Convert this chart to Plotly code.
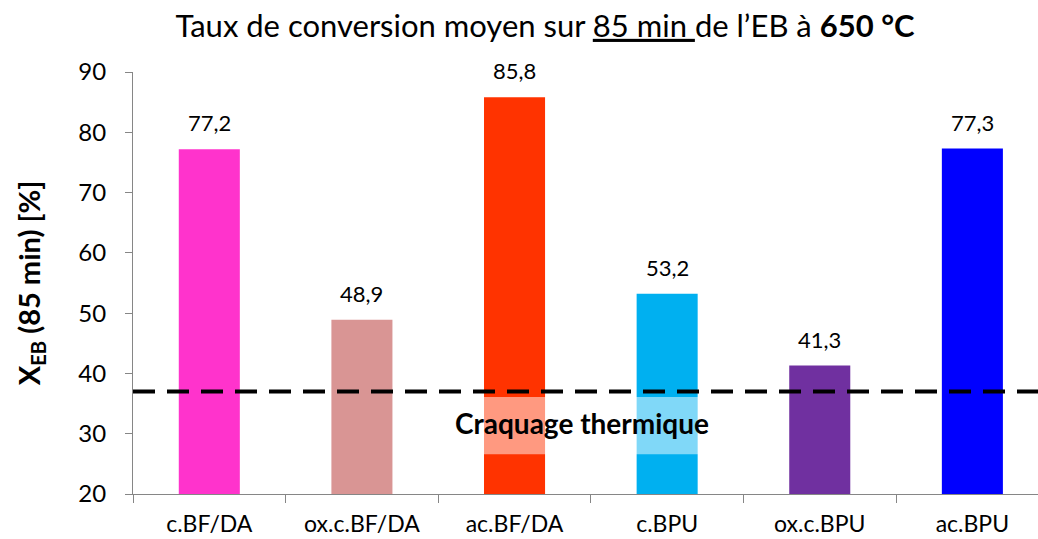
import plotly.graph_objects as go

categories = ["c.BF/DA", "ox.c.BF/DA", "ac.BF/DA", "c.BPU", "ox.c.BPU", "ac.BPU"]
conversion = [77.2, 48.9, 85.8, 53.2, 41.3, 77.3]
value_labels = ["77,2", "48,9", "85,8", "53,2", "41,3", "77,3"]
bar_colors = ["#FF33CC", "#D99594", "#FF3300", "#00B0F0", "#7030A0", "#0000FF"]
thermal_cracking = 37.0
y_ticks = [20, 30, 40, 50, 60, 70, 80, 90]

FONT = "Lato"

fig = go.Figure()
fig.add_trace(go.Bar(
    x=categories, y=conversion,
    marker=dict(color=bar_colors, line=dict(width=0)),
    width=0.4,
    hoverinfo="skip",
))

# value labels sitting a little above each bar
for cat, val, lab in zip(categories, conversion, value_labels):
    fig.add_annotation(x=cat, y=val, xref="x", yref="y", text=lab, showarrow=False,
                       yanchor="bottom", yshift=11,
                       font=dict(family=FONT, size=22, color="black"))

# thermal cracking reference line
fig.add_shape(type="line", xref="paper", yref="y", x0=0, x1=1,
              y0=thermal_cracking, y1=thermal_cracking,
              line=dict(color="black", width=4, dash="22px,12px"), layer="above")

# light backing behind the annotation
fig.add_shape(type="rect", xref="x", yref="y", x0=1.6, x1=3.4, y0=26.6, y1=36.1,
              fillcolor="rgba(255,255,255,0.5)", line=dict(width=0), layer="above")

fig.add_annotation(x=2.44, y=31.8, xref="x", yref="y", text="<b>Craquage thermique</b>",
                   showarrow=False, font=dict(family=FONT, size=28, color="black"))

fig.update_layout(
    width=1038, height=539,
    margin=dict(l=133, r=0, t=72, b=45),
    paper_bgcolor="white", plot_bgcolor="white",
    showlegend=False,
    font=dict(family=FONT, color="black"),
    title=dict(
        text="Taux de conversion moyen sur <u>85 min </u>de l\u2019EB à <b>650 °C</b>",
        x=545 / 1038, xanchor="center", y=1 - 26 / 539, yanchor="middle",
        font=dict(family=FONT, size=31, color="black"),
    ),
    xaxis=dict(
        range=[-0.5, 5.43], showline=True, linecolor="#868686", linewidth=1,
        ticks="outside", tickson="boundaries", ticklen=8, tickcolor="#868686",
        tickfont=dict(family=FONT, size=23, color="black"), ticklabelstandoff=9,
        showgrid=False,
    ),
    yaxis=dict(
        range=[20, 90], tickvals=y_ticks, showline=True, linecolor="#868686", linewidth=1,
        ticks="outside", ticklen=7, tickcolor="#868686",
        tickfont=dict(family=FONT, size=24, color="black"), ticklabelstandoff=14,
        showgrid=False, zeroline=False,
        title=dict(text="<b>X<sub>EB</sub> (85 min) [%]</b>", standoff=29,
                   font=dict(family=FONT, size=29, color="black")),
    ),
)

fig.write_html("out.html")
